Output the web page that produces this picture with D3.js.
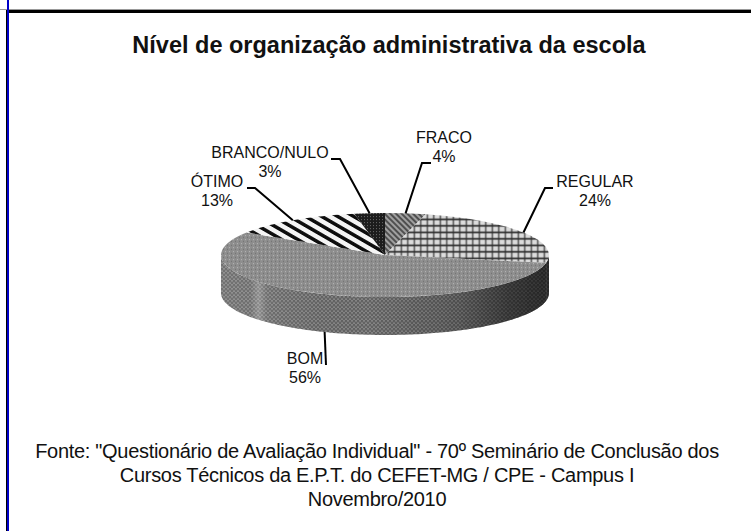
<!DOCTYPE html>
<html>
<head>
<meta charset="utf-8">
<script src="https://cdn.jsdelivr.net/npm/d3@7/dist/d3.min.js"></script>
<style>
  html, body { margin: 0; padding: 0; background: #fff; }
  svg { display: block; }
  text { font-family: "Liberation Sans", Arial, sans-serif; fill: #111; }
</style>
</head>
<body>
<div id="chart"></div>
<script>
const titleText = "Nível de organização administrativa da escola";
const categories = ["FRACO", "REGULAR", "BOM", "ÓTIMO", "BRANCO/NULO"];
const values = [4, 24, 56, 13, 3];
const sourceLines = [
  "Fonte: \"Questionário de Avaliação Individual\" - 70º Seminário de Conclusão dos",
  "Cursos Técnicos da E.P.T. do CEFET-MG / CPE - Campus I",
  "Novembro/2010"
];

const width = 751, height = 531;
const cx = 385, cy = 255, rx = 164, ry = 42, depth = 38;
const k = ry / rx;

const svg = d3.select("#chart").append("svg")
  .attr("width", width)
  .attr("height", height);

const defs = svg.append("defs");

// soft blur, the original is a scanned looking screenshot
defs.append("filter").attr("id", "soft")
  .append("feGaussianBlur").attr("stdDeviation", 0.45);

function pattern(id, w, h, bg, transform) {
  const p = defs.append("pattern")
    .attr("id", id)
    .attr("patternUnits", "userSpaceOnUse")
    .attr("width", w)
    .attr("height", h);
  if (transform) p.attr("patternTransform", transform);
  p.append("rect").attr("width", w).attr("height", h).attr("fill", bg);
  return p;
}

// top face sits in a scaled group, so undo the y scale in the patterns
const unscale = `scale(1,${1 / k})`;

const fraco = pattern("p-fraco", 4, 4, "#a0a0a0", `${unscale} rotate(-45)`);
fraco.append("rect").attr("width", 2).attr("height", 4).attr("fill", "#505050");

const regular = pattern("p-regular", 6.5, 6.5, "#dcdcdc", unscale);
regular.append("rect").attr("x", 2.5).attr("width", 1.6).attr("height", 6.5).attr("fill", "#5c5c5c");
regular.append("rect").attr("y", 2.5).attr("width", 6.5).attr("height", 1.7).attr("fill", "#2c2c2c");

const bom = pattern("p-bom", 4, 4, "#8e8e8e", unscale);
bom.append("rect").attr("width", 1).attr("height", 1).attr("fill", "#b4b4b4");
bom.append("rect").attr("x", 2).attr("y", 2).attr("width", 1).attr("height", 1).attr("fill", "#666");

const otimo = pattern("p-otimo", 8, 8, "#f4f4f4", `${unscale} rotate(-60)`);
otimo.append("rect").attr("width", 3.5).attr("height", 8).attr("fill", "#0c0c0c");

const branco = pattern("p-branco", 3, 3, "#1a1a1a", unscale);
branco.append("rect").attr("width", 1).attr("height", 1).attr("fill", "#666");

const fills = ["p-fraco", "p-regular", "p-bom", "p-otimo", "p-branco"];

const side = pattern("p-side", 4, 4, "#858585");
side.append("path").attr("d", "M0 4L2 0L4 4").attr("fill", "none").attr("stroke", "#585858").attr("stroke-width", 1);

const shade = defs.append("linearGradient")
  .attr("id", "side-shade")
  .attr("gradientUnits", "userSpaceOnUse")
  .attr("x1", cx - rx).attr("x2", cx + rx)
  .attr("y1", 0).attr("y2", 0);
[
  [0, "#fff", 0.1], [0.09, "#fff", 0.08], [0.115, "#fff", 0.28], [0.14, "#fff", 0.08],
  [0.45, "#000", 0], [0.72, "#000", 0.2], [0.88, "#000", 0.5], [1, "#000", 0.62]
].forEach(s => shade.append("stop")
  .attr("offset", s[0]).attr("stop-color", s[1]).attr("stop-opacity", s[2]));

const pie = d3.pie().sort(null).startAngle(0).endAngle(2 * Math.PI);
const arcs = pie(values);
const arc = d3.arc().innerRadius(0).outerRadius(rx);

const px = a => cx + rx * Math.sin(a);
const py = a => cy - ry * Math.cos(a);

const chart = svg.append("g").attr("filter", "url(#soft)");

// side wall, only the front half of the ellipse shows
const wall = d3.area()
  .x(a => px(a))
  .y0(a => py(a))
  .y1(a => py(a) + depth);

arcs.forEach(d => {
  const a0 = Math.max(d.startAngle, Math.PI / 2);
  const a1 = Math.min(d.endAngle, 3 * Math.PI / 2);
  if (a1 <= a0) return;
  const angles = d3.range(a0, a1, 0.02).concat([a1]);
  chart.append("path").attr("d", wall(angles)).attr("fill", "url(#p-side)");
  chart.append("path").attr("d", wall(angles)).attr("fill", "url(#side-shade)");
});

// top face
const topFace = chart.append("g")
  .attr("transform", `translate(${cx},${cy}) scale(1,${k})`);
topFace.selectAll("path")
  .data(arcs)
  .enter()
  .append("path")
  .attr("d", arc)
  .attr("fill", (d, i) => `url(#${fills[i]})`);

// label positions, leaders start at the middle of each slice
const labelSpots = [
  { x: 444, y: 143, elbow: [422, 163], end: [431, 163] },
  { x: 595, y: 187, elbow: [545, 188], end: [553, 188] },
  { x: 305, y: 364, elbow: [326, 365], end: [326, 365] },
  { x: 217, y: 187, elbow: [255, 188], end: [247, 188] },
  { x: 270, y: 158, elbow: [340, 159], end: [331, 159] }
];

const leader = d3.line();
arcs.forEach((d, i) => {
  const mid = (d.startAngle + d.endAngle) / 2;
  const s = labelSpots[i];
  const front = Math.cos(mid) < 0;
  const start = [px(mid), py(mid) + (front ? depth : 0)];
  svg.append("path")
    .attr("d", leader([start, s.elbow, s.end]))
    .attr("fill", "none")
    .attr("stroke", "#000")
    .attr("stroke-width", 2);
  const label = svg.append("text")
    .attr("text-anchor", "middle")
    .attr("font-size", 16);
  label.append("tspan").attr("x", s.x).attr("y", s.y).text(categories[i]);
  label.append("tspan").attr("x", s.x).attr("y", s.y + 19).text(`${values[i]}%`);
});

// title
svg.append("text")
  .attr("x", 389).attr("y", 53)
  .attr("text-anchor", "middle")
  .attr("font-size", 23.5)
  .attr("font-weight", "bold")
  .text(titleText);

// source
svg.selectAll(".source")
  .data(sourceLines)
  .enter()
  .append("text")
  .attr("class", "source")
  .attr("x", 377)
  .attr("y", (d, i) => 458 + i * 24)
  .attr("text-anchor", "middle")
  .attr("font-size", 20)
  .attr("letter-spacing", -0.3)
  .text(d => d);

// frame
svg.append("rect").attr("x", 0).attr("y", 9).attr("width", width).attr("height", 1).attr("fill", "#999");
svg.append("rect").attr("x", 6).attr("y", 10).attr("width", width - 6).attr("height", 3).attr("fill", "#000");
svg.append("rect").attr("x", 6).attr("y", 10).attr("width", 1).attr("height", height - 10).attr("fill", "#000");
svg.append("rect").attr("x", 7).attr("y", 0).attr("width", 2).attr("height", height).attr("fill", "#0000c8");
</script>
</body>
</html>
